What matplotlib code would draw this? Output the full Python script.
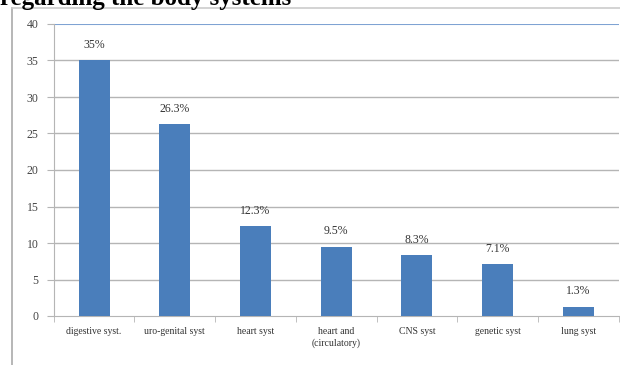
import matplotlib.pyplot as plt
from matplotlib.lines import Line2D

categorias = ["digestive syst.", "uro-genital syst", "heart syst", "heart and\n(circulatory)",
              "CNS syst", "genetic syst", "lung syst"]
valores = [35, 26.3, 12.3, 9.5, 8.3, 7.1, 1.3]
etiquetas = ["35%", "26.3%", "12.3%", "9.5%", "8.3%", "7.1%", "1.3%"]
yticks = [0, 5, 10, 15, 20, 25, 30, 35, 40]

plt.rcParams['font.family'] = ['Liberation Serif', 'DejaVu Serif']

fig = plt.figure(figsize=(6.2, 3.65), dpi=100)
ax = fig.add_axes([53.7/620, 49/365, 565/620, 292/365])

x = range(len(valores))
ax.bar(x, valores, width=0.385, color="#4a7ebb", zorder=3)
for i in x:
    ax.text(i, valores[i] + 1.3, etiquetas[i], ha="center", va="bottom", fontsize=8.5, color="#333333")

ax.set_xlim(-0.5, len(valores) - 0.5)
ax.set_ylim(0, 40)
ax.set_yticks(yticks)
ax.set_yticklabels([str(v) for v in yticks], fontsize=8.5, color="#444444")
for v in yticks[1:-1]:
    ax.axhline(v, color="#b5b5b5", lw=1, zorder=1)
ax.axhline(40, color="#7fa3d3", lw=1.5, zorder=1)

ax.set_xticks([i - 0.5 for i in range(len(valores) + 1)], minor=True)
ax.set_xticks(list(x))
ax.set_xticklabels(categorias, fontsize=7, color="#333333", linespacing=1.3)
ax.tick_params(axis="x", which="major", length=0, pad=8)
ax.tick_params(axis="x", which="minor", length=4, color="#b5b5b5")
ax.tick_params(axis="y", length=5, color="#b5b5b5", pad=6)

for s in ["top", "right"]:
    ax.spines[s].set_visible(False)
ax.spines["left"].set_color("#b5b5b5")
ax.spines["bottom"].set_color("#b5b5b5")

# marco del gráfico
fig.add_artist(Line2D([12/620, 12/620], [0, 1 - 8/365], color="#aaaaaa", lw=1.2))
fig.add_artist(Line2D([12/620, 1], [1 - 8/365, 1 - 8/365], color="#cccccc", lw=1.2))

fig.text(0.0, 1 - 5/365, "regarding the body systems", fontsize=18, fontweight="bold",
         family="Liberation Serif", ha="left", va="baseline")

fig.savefig("out.png", dpi=100)
